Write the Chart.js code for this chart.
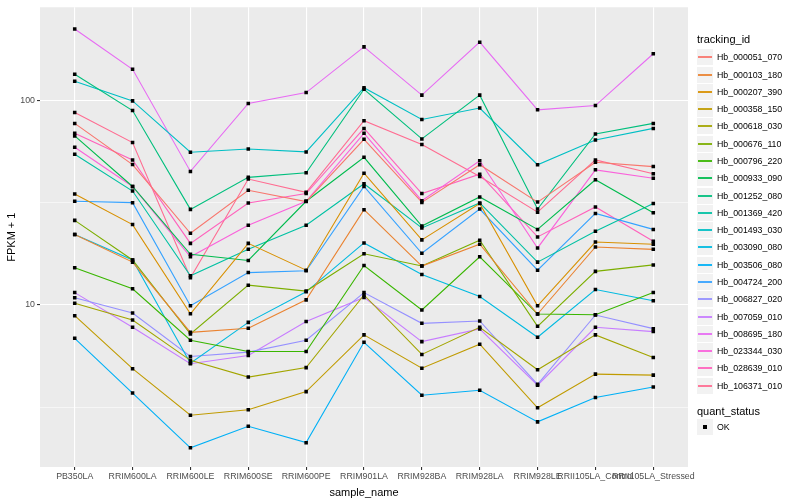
<!DOCTYPE html>
<html>
<head>
<meta charset="utf-8">
<script src="https://cdn.jsdelivr.net/npm/chart.js@4.4.0/dist/chart.umd.min.js"></script>
<style>
body { margin: 0; background: #fff; font-family: "Liberation Sans", Arial, sans-serif; }
#wrap { position: relative; width: 800px; height: 500px; }
#legend { position: absolute; left: 0; top: 0; width: 800px; height: 500px; pointer-events: none; }
.ltitle { position: absolute; left: 697px; font-size: 11px; color: #000; line-height: 12px; }
.lkey { position: absolute; left: 697px; width: 16px; height: 16px; background: #F2F2F2; }
.lkey i { position: absolute; left: 1px; width: 14px; top: 7px; height: 2px; opacity: 0.9; }
.lkey b { position: absolute; left: 6px; top: 6px; width: 4px; height: 4px; background: #000; }
.ltext { position: absolute; left: 717px; font-size: 8.8px; color: #000; line-height: 10px; }
</style>
</head>
<body>
<div id="wrap">
  <canvas id="chart" width="800" height="500"></canvas>
  <div id="legend"></div>
</div>
<script>
const samples = ['PB350LA', 'RRIM600LA', 'RRIM600LE', 'RRIM600SE', 'RRIM600PE', 'RRIM901LA',
    'RRIM928BA', 'RRIM928LA', 'RRIM928LE', 'RRII105LA_Control', 'RRII105LA_Stressed'];

// FPKM + 1, one value per sample
const hb000051_070 = [77.0, 48.5, 22.4, 36.3, 32.0, 64.4, 31.7, 48.4, 31.8, 49.8, 47.4];
const hb000103_180 = [22.1, 16.2, 7.36, 7.70, 10.6, 29.2, 15.5, 19.8, 9.04, 19.2, 18.7];
const hb000207_390 = [34.8, 24.7, 9.07, 20.0, 14.8, 44.0, 20.8, 31.3, 9.92, 20.3, 19.8];
const hb000358_150 = [8.87, 4.89, 2.90, 3.08, 3.78, 7.15, 4.92, 6.44, 3.15, 4.60, 4.55];
const hb000618_030 = [10.2, 8.45, 5.37, 4.45, 4.95, 11.2, 5.74, 7.79, 4.83, 7.15, 5.55];
const hb000676_110 = [25.9, 16.6, 7.23, 12.5, 11.7, 17.8, 15.5, 20.7, 7.87, 14.6, 15.7];
const hb000796_220 = [15.2, 12.0, 6.73, 5.93, 5.93, 15.6, 9.46, 17.2, 9.04, 8.97, 11.5];
const hb000933_090 = [66.9, 37.9, 17.7, 16.5, 32.1, 52.6, 24.3, 33.7, 23.4, 40.9, 28.2];
const hb001252_080 = [133.7, 89.0, 29.3, 42.0, 44.2, 113.0, 64.7, 105.8, 29.4, 68.4, 77.0];
const hb001369_420 = [54.4, 36.0, 13.9, 18.7, 24.5, 39.1, 23.8, 31.5, 16.2, 22.9, 31.3];
const hb001493_030 = [123.7, 99.2, 55.7, 57.8, 55.9, 115.0, 80.5, 91.5, 48.4, 63.9, 72.8];
const hb003090_080 = [22.1, 16.6, 5.2, 8.23, 11.6, 20.1, 14.1, 11.0, 6.96, 11.9, 10.5];
const hb003506_080 = [6.88, 3.72, 2.01, 2.56, 2.13, 6.58, 3.63, 3.84, 2.69, 3.54, 3.98];
const hb004724_200 = [32.1, 31.6, 9.92, 14.4, 14.7, 37.9, 17.9, 29.4, 14.8, 28.0, 23.4];
const hb006827_020 = [10.85, 9.15, 5.61, 5.89, 6.73, 11.5, 8.14, 8.36, 4.10, 8.94, 7.67];
const hb007059_010 = [11.5, 7.79, 5.17, 5.67, 8.32, 10.9, 6.63, 7.65, 4.06, 7.79, 7.42];
const hb008695_180 = [222.6, 141.4, 44.9, 96.3, 108.9, 182.0, 105.8, 191.9, 89.7, 94.1, 168.4];
const hb023344_030 = [58.9, 37.9, 17.2, 24.5, 32.1, 68.9, 32.3, 50.6, 19.0, 45.7, 41.6];
const hb028639_010 = [68.9, 51.1, 20.0, 31.5, 35.0, 72.8, 35.0, 43.5, 21.5, 30.1, 20.5];
const hb106371_010 = [87.1, 62.1, 13.6, 41.2, 35.5, 79.4, 60.7, 42.4, 28.4, 51.1, 43.7];

const trackingIds = ['Hb_000051_070', 'Hb_000103_180', 'Hb_000207_390', 'Hb_000358_150', 'Hb_000618_030',
    'Hb_000676_110', 'Hb_000796_220', 'Hb_000933_090', 'Hb_001252_080', 'Hb_001369_420',
    'Hb_001493_030', 'Hb_003090_080', 'Hb_003506_080', 'Hb_004724_200', 'Hb_006827_020',
    'Hb_007059_010', 'Hb_008695_180', 'Hb_023344_030', 'Hb_028639_010', 'Hb_106371_010'];
const seriesValues = [hb000051_070, hb000103_180, hb000207_390, hb000358_150, hb000618_030,
    hb000676_110, hb000796_220, hb000933_090, hb001252_080, hb001369_420,
    hb001493_030, hb003090_080, hb003506_080, hb004724_200, hb006827_020,
    hb007059_010, hb008695_180, hb023344_030, hb028639_010, hb106371_010];
const seriesColors = ['#F8766D', '#EA8331', '#D89000', '#C09B00', '#A3A500', '#7CAE00', '#39B600', '#00BB4E',
    '#00BF7D', '#00C1A3', '#00BFC4', '#00BAE0', '#00B0F6', '#35A2FF', '#9590FF', '#C77CFF',
    '#E76BF3', '#FA62DB', '#FF62BC', '#FF6C91'];

const yMajor = [10, 100];
const yMinor = [3.1623, 31.623];

const lineSets = seriesValues.map((vals, k) => ({
    label: trackingIds[k],
    data: vals.map((v, i) => ({ x: i, y: v })),
    borderColor: seriesColors[k],
    borderWidth: 1.1,
    pointRadius: 0,
    fill: false,
    tension: 0,
    order: 1
}));

const allPoints = [];
seriesValues.forEach(vals => vals.forEach((v, i) => allPoints.push({ x: i, y: v })));

const panelBg = {
    id: 'panelBg',
    beforeDraw: (chart) => {
        const a = chart.chartArea;
        const ctx = chart.ctx;
        ctx.save();
        ctx.fillStyle = '#EBEBEB';
        ctx.fillRect(a.left, a.top, a.right - a.left, a.bottom - a.top);
        ctx.restore();
    }
};

const isMajor = v => yMajor.some(m => Math.abs(m - v) < 1e-6);

new Chart(document.getElementById('chart').getContext('2d'), {
    type: 'line',
    data: {
        datasets: [{
            label: 'OK',
            data: allPoints,
            showLine: false,
            pointStyle: 'rect',
            pointRadius: 2.5,
            pointBackgroundColor: '#000',
            pointBorderColor: '#000',
            pointBorderWidth: 0,
            order: 0
        }].concat(lineSets)
    },
    options: {
        responsive: false,
        animation: false,
        events: [],
        layout: { padding: { left: 5, right: 112, top: 5, bottom: 0 } },
        plugins: { legend: { display: false }, tooltip: { enabled: false } },
        scales: {
            x: {
                type: 'linear',
                min: -0.6,
                max: 10.6,
                afterBuildTicks: (s) => { s.ticks = samples.map((_, i) => ({ value: i })); },
                afterFit: (s) => { s.height = 33; },
                ticks: {
                    callback: (v) => samples[v],
                    autoSkip: false,
                    maxRotation: 0,
                    minRotation: 0,
                    color: '#4D4D4D',
                    font: { family: 'Liberation Sans', size: 8.8 },
                    padding: 1
                },
                grid: { color: '#FFFFFF', lineWidth: 1.1, tickLength: 3, tickColor: '#333333' },
                border: { display: false },
                title: {
                    display: true, text: 'sample_name', color: '#000',
                    font: { family: 'Liberation Sans', size: 11 }, padding: { top: 1, bottom: 0 }
                }
            },
            y: {
                type: 'logarithmic',
                min: 1.62,
                max: 284,
                afterBuildTicks: (s) => { s.ticks = yMinor.concat(yMajor).sort((a, b) => a - b).map(v => ({ value: v })); },
                afterFit: (s) => { s.width = 35; },
                ticks: {
                    callback: (v) => isMajor(v) ? String(v) : '',
                    color: '#4D4D4D',
                    font: { family: 'Liberation Sans', size: 8.8 },
                    padding: 2
                },
                grid: {
                    color: '#FFFFFF',
                    lineWidth: (c) => isMajor(c.tick.value) ? 1.1 : 0.55,
                    tickLength: 3,
                    tickColor: (c) => isMajor(c.tick.value) ? '#333333' : 'rgba(0,0,0,0)'
                },
                border: { display: false },
                title: {
                    display: true, text: 'FPKM + 1', color: '#000',
                    font: { family: 'Liberation Sans', size: 11 }, padding: { top: 0, bottom: 2 }
                }
            }
        }
    },
    plugins: [panelBg]
});

// legend on the right, built from the same arrays
const legend = document.getElementById('legend');
const add = (cls, top, html) => {
    const d = document.createElement('div');
    d.className = cls;
    d.style.top = top + 'px';
    d.innerHTML = html;
    legend.appendChild(d);
    return d;
};
add('ltitle', 33, 'tracking_id');
trackingIds.forEach((id, k) => {
    const cy = Math.round(57.3 + k * 17.28);
    add('lkey', cy - 8, '<i style="background:' + seriesColors[k] + '"></i>');
    add('ltext', cy - 5, id);
});
add('ltitle', 405, 'quant_status');
add('lkey', 427 - 8, '<b></b>');
add('ltext', 427 - 5, 'OK');
</script>
</body>
</html>
